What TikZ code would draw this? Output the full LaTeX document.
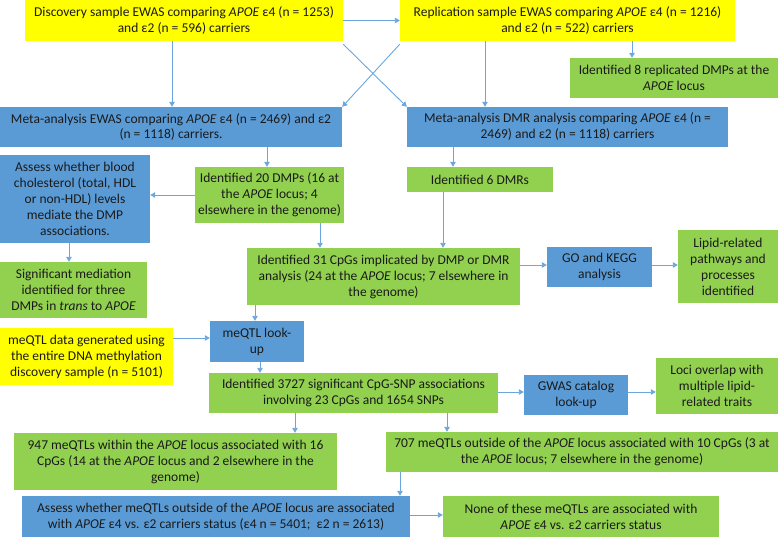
\documentclass[tikz,border=0pt]{standalone}
\usepackage{fontspec}
\setmainfont{Carlito}
\usetikzlibrary{arrows.meta}
\definecolor{gbox}{HTML}{92D050}
\definecolor{bbox}{HTML}{5B9BD5}
\definecolor{ybox}{HTML}{FFFF00}
\definecolor{arrc}{HTML}{6CA6DC}
\definecolor{txt}{HTML}{1A1A1A}
\begin{document}
\begin{tikzpicture}[x=1pt,y=-1pt,
  box/.style={inner sep=0pt, align=center, text=txt, font=\fontsize{13.5}{16}\selectfont},
  gr/.style={box, fill=gbox},
  bl/.style={box, fill=bbox},
  ye/.style={box, fill=ybox},
  sz/.style 2 args={minimum width=#1, minimum height=#2},
  arr/.style={draw=arrc, line width=0.9pt, -{Triangle[width=5.5pt,length=5pt]}}]
\useasboundingbox (0,0) rectangle (778,537);
\node[ye, sz={318}{41}] (disc) at (184,20.5) {Discovery sample EWAS comparing \textit{APOE} ε4 (n = 1253)\\and ε2 (n = 596) carriers};
\node[ye, sz={335}{41}] (repl) at (567.5,20.5) {Replication sample EWAS comparing \textit{APOE} ε4 (n = 1216)\\and ε2 (n = 522) carriers};
\node[gr, sz={208}{40}] (rep8) at (674,78) {Identified 8 replicated DMPs at the\\\textit{APOE} locus};
\node[bl, sz={342}{40}] (metaE) at (171,127) {Meta-analysis EWAS comparing \textit{APOE} ε4 (n = 2469) and ε2\\(n = 1118) carriers.};
\node[bl, sz={321}{40}] (metaD) at (567.5,127) {Meta-analysis DMR analysis comparing \textit{APOE} ε4 (n =\\2469) and ε2 (n = 1118) carriers};
\node[bl, sz={150}{88}] (chol) at (75,199) {Assess whether blood\\cholesterol (total, HDL\\or non-HDL) levels\\mediate the DMP\\associations.};
\node[gr, sz={149}{56}] (dmp20) at (269.5,195) {Identified 20 DMPs (16 at\\the \textit{APOE} locus; 4\\elsewhere in the genome)};
\node[gr, sz={146}{25}] (dmr6) at (480,179.5) {Identified 6 DMRs};
\node[gr, sz={147}{56}] (med) at (73.5,290) {Significant mediation\\identified for three\\DMPs in \textit{trans} to \textit{APOE}};
\node[gr, sz={273}{57}] (cpg31) at (383.5,276.5) {Identified 31 CpGs implicated by DMP or DMR\\analysis (24 at the \textit{APOE} locus; 7 elsewhere in\\the genome)};
\node[bl, sz={105}{40}] (go) at (599.5,267) {GO and KEGG\\analysis};
\node[gr, sz={100}{73}] (lipid) at (728,266.5) {Lipid-related\\pathways and\\processes\\identified};
\node[ye, sz={173}{57}] (meqd) at (86.5,356.5) {meQTL data generated using\\the entire DNA methylation\\discovery sample (n = 5101)};
\node[bl, sz={94}{41}] (lookup) at (257,341.5) {meQTL look-\\up};
\node[gr, sz={289}{40}] (id3727) at (353.5,393) {Identified 3727 significant CpG-SNP associations\\involving 23 CpGs and 1654 SNPs};
\node[bl, sz={104}{40}] (gwas) at (576,395) {GWAS catalog\\look-up};
\node[gr, sz={122}{56}] (loci) at (717,386) {Loci overlap with\\multiple lipid-\\related traits};
\node[gr, sz={323}{57}] (q947) at (175.5,461.5) {947 meQTLs within the \textit{APOE} locus associated with 16\\CpGs (14 at the \textit{APOE} locus and 2 elsewhere in the\\genome)};
\node[gr, sz={392}{40}] (q707) at (582,452) {707 meQTLs outside of the \textit{APOE} locus associated with 10 CpGs (3 at\\the \textit{APOE} locus; 7 elsewhere in the genome)};
\node[bl, sz={388}{41}] (assq) at (216,516.5) {Assess whether meQTLs outside of the \textit{APOE} locus are associated\\with \textit{APOE} ε4 vs. ε2 carriers status (ε4 n = 5401;~ ε2 n = 2613)};
\node[gr, sz={276}{41}] (none) at (581,516.5) {None of these meQTLs are associated with\\\textit{APOE} ε4 vs. ε2 carriers status};
% connectors
\draw[arr] (disc.south -| 172,0) -- (metaE.north -| 172,0);
\draw[arr] (disc.east) -- (repl.west);
\draw[arr] ([yshift=-3pt]disc.south east) -- (metaD.north west);
\draw[arr] ([yshift=-3pt]repl.south west) -- (metaE.north east);
\draw[arr] (repl.south -| 485,0) -- (metaD.north -| 485,0);
\draw[arr] (repl.south -| 632,0) -- (rep8.north -| 632,0);
\draw[arr] (metaE.south -| 267,0) -- (dmp20.north -| 267,0);
\draw[arr] (metaD.south -| 453,0) -- (dmr6.north -| 453,0);
\draw[arr] (dmp20.west) -- (chol.east |- dmp20.west);
\draw[arr] (chol.south -| 69,0) -- (med.north -| 69,0);
\draw[arr] (dmp20.south -| 320,0) -- (cpg31.north -| 320,0);
\draw[arr] (dmr6.south -| 443,0) -- (cpg31.north -| 443,0);
\draw[arr] (cpg31.east |- 0,265) -- (go.west |- 0,265);
\draw[arr] (go.east |- 0,265) -- (lipid.west |- 0,265);
\draw[arr] (cpg31.south -| 255,0) -- (lookup.north -| 255,0);
\draw[arr] (meqd.east |- 0,338) -- (lookup.west |- 0,338);
\draw[arr] (lookup.south -| 260,0) -- (id3727.north -| 260,0);
\draw[arr] (id3727.east |- 0,392) -- (gwas.west |- 0,392);
\draw[arr] (gwas.east |- 0,392) -- (loci.west |- 0,392);
\draw[arr] (id3727.south -| 295,0) -- (q947.north -| 295,0);
\draw[arr] (id3727.south -| 447,0) -- (q707.north -| 447,0);
\draw[arr] (q707.south -| 400,0) -- (assq.north -| 400,0);
\draw[arr] (assq.east |- 0,515) -- (none.west |- 0,515);
\end{tikzpicture}
\end{document}
